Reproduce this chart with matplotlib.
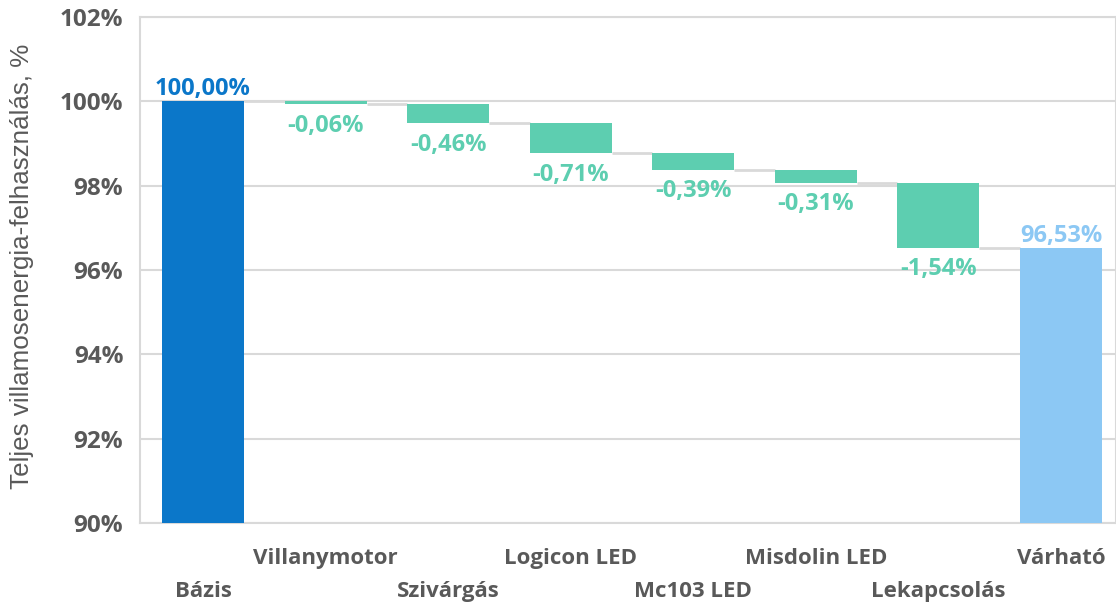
import matplotlib.pyplot as plt
import numpy as np

categories = ["Bázis", "Villanymotor", "Szivárgás", "Logicon LED",
              "Mc103 LED", "Misdolin LED", "Lekapcsolás", "Várható"]
base_value = 100.00
changes = [-0.06, -0.46, -0.71, -0.39, -0.31, -1.54]
final_value = 96.53

c_base = "#0B77C9"
c_delta = "#5DCEB0"
c_final = "#8CC8F4"
c_text = "#595959"
c_grid = "#D9D9D9"

plt.rcParams["font.family"] = ["Open Sans", "DejaVu Sans"]

fig = plt.figure(figsize=(11.16, 6.03), dpi=100)
ax = fig.add_axes([140 / 1116, 1 - 523 / 603, 976 / 1116, (523 - 17) / 603])

x = np.arange(len(categories))
width = 0.67
ymin = 90

# running levels
levels = [base_value]
for c in changes:
    levels.append(levels[-1] + c)

ax.bar(x[0], base_value - ymin, bottom=ymin, width=width, color=c_base, zorder=3)
ax.bar(x[-1], final_value - ymin, bottom=ymin, width=width, color=c_final, zorder=3)
for i, c in enumerate(changes):
    top = levels[i]
    ax.bar(x[i + 1], -c, bottom=top + c, width=width, color=c_delta, zorder=3)

# connectors
for i in range(len(levels)):
    ax.plot([x[i] + width / 2, x[i + 1] - width / 2], [levels[i], levels[i]],
            color=c_grid, lw=2, zorder=2, solid_capstyle="butt")

# data labels
ax.annotate(f"{base_value:.2f}%".replace(".", ","), (x[0], base_value),
            xytext=(0, 0), textcoords="offset points", ha="center", va="bottom",
            fontsize=17, fontweight="bold", color=c_base)
ax.annotate(f"{final_value:.2f}%".replace(".", ","), (x[-1], final_value),
            xytext=(0, 0), textcoords="offset points", ha="center", va="bottom",
            fontsize=17, fontweight="bold", color=c_final)
for i, c in enumerate(changes):
    ax.annotate(f"{c:.2f}%".replace(".", ","), (x[i + 1], levels[i + 1]),
                xytext=(0, -7), textcoords="offset points", ha="center", va="top",
                fontsize=17, fontweight="bold", color=c_delta)

ax.set_ylim(90, 102)
ax.set_xlim(-0.514, 7.449)
ax.set_yticks(np.arange(90, 103, 2))
ax.set_yticklabels([f"{v}%" for v in range(90, 103, 2)])
ax.yaxis.grid(True, color=c_grid, lw=1.5, zorder=0)
ax.set_axisbelow(True)

ax.set_xticks(x)
ax.set_xticklabels(categories)
for i, t in enumerate(ax.xaxis.get_major_ticks()):
    t.set_pad(42 if i % 2 == 0 else 18)

ax.tick_params(axis="both", length=0, labelcolor=c_text, labelsize=16)
ax.tick_params(axis="y", labelsize=17.5, pad=12)
for lab in ax.get_xticklabels() + ax.get_yticklabels():
    lab.set_fontweight("bold")

for s in ax.spines.values():
    s.set_color(c_grid)
    s.set_linewidth(1.5)

ax.set_ylabel("Teljes villamosenergia-felhasználás, %", fontsize=18.7,
              color=c_text, family="Liberation Sans")
ax.yaxis.set_label_coords(-0.109, 0.507)

fig.savefig("out.png", dpi=100)
